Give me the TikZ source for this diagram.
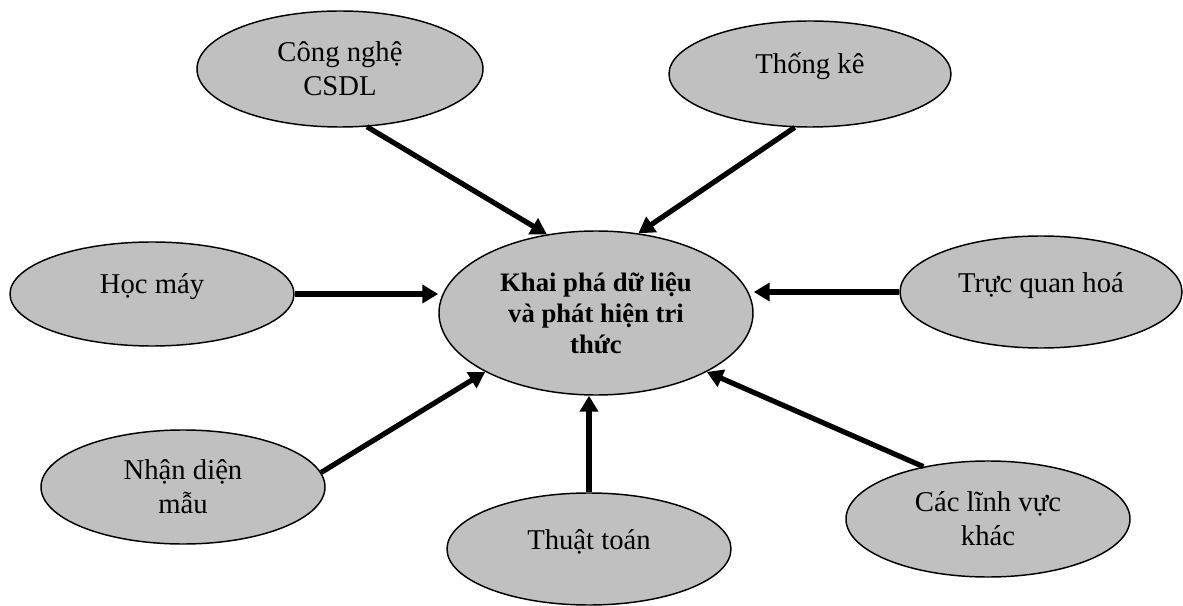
\documentclass[tikz,border=0pt]{standalone}
\usepackage{fontspec}
\setmainfont{Liberation Serif}
\usetikzlibrary{shapes.geometric,arrows.meta}
\definecolor{ellgray}{RGB}{192,192,192}
\tikzset{
  bubble/.style={ellipse,draw=black,line width=1.1pt,fill=ellgray,inner sep=0pt,
    font=\fontsize{21.5}{25.5}\selectfont,align=center},
  oneline/.style={align=none,text height=0.72em,text depth=0.72em},
  core/.style={bubble,font=\fontsize{20}{23.25}\selectfont\bfseries},
  link/.style={line width=3.9pt,-{Triangle[length=12pt,width=13.5pt]}}
}
\begin{document}
\begin{tikzpicture}[x=0.75pt,y=-0.75pt]
\useasboundingbox (0,0) rectangle (1183,606);
\node[core,minimum width=235.5pt,minimum height=123pt] (kp) at (596,313) {Khai phá dữ liệu\\và phát hiện tri\\thức};
\node[bubble,minimum width=214.5pt,minimum height=87pt] (csdl) at (340,69) {Công nghệ\\CSDL};
\node[bubble,oneline,minimum width=211.5pt,minimum height=79.5pt] (tk) at (810,74) {Thống kê};
\node[bubble,oneline,minimum width=213pt,minimum height=78pt] (hoc) at (152,294) {Học máy};
\node[bubble,oneline,minimum width=211.5pt,minimum height=84pt] (tq) at (1041,292) {Trực quan hoá};
\node[bubble,minimum width=213pt,minimum height=85.5pt] (nd) at (183,487) {Nhận diện\\mẫu};
\node[bubble,oneline,minimum width=213pt,minimum height=84pt] (tt) at (589,549) {Thuật toán};
\node[bubble,minimum width=213pt,minimum height=87pt] (cac) at (988,519) {Các lĩnh vực\\khác};
\draw[link] (csdl.-65) -- (kp.122.6);
\draw[link] (tk.254) -- (kp.62);
\draw[link] (hoc.east) -- (hoc.east -| kp.west);
\draw[link] (tq.west) -- (tq.west -| kp.east);
\draw[link] (nd.6) -- (kp.208.4);
\draw[link] (tt.north) -- (tt.north |- kp.south);
\draw[link] (cac.141.9) -- (kp.332.2);
\end{tikzpicture}
\end{document}
